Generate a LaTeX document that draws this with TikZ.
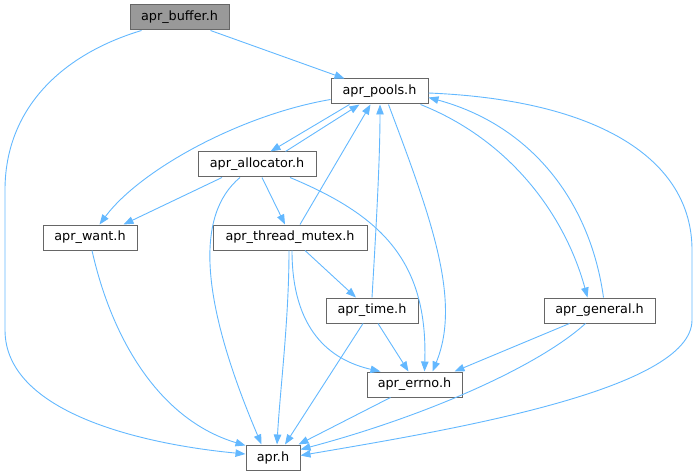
\documentclass[tikz,border=0pt]{standalone}
\usepackage{fontspec}
\setmainfont{DejaVu Sans}
\usetikzlibrary{arrows.meta}
\definecolor{edgeblue}{RGB}{99,184,255}
\definecolor{boxborder}{RGB}{102,102,102}
\definecolor{boxgray}{RGB}{153,153,153}
\begin{document}
\begin{tikzpicture}[x=1pt,y=-1pt,
  filebox/.style={draw=boxborder,line width=1pt,fill=white,rectangle,inner sep=0pt,minimum height=25pt,font=\fontsize{12.8}{15}\selectfont},
  curfile/.style={filebox,fill=boxgray},
  dep/.style={draw=edgeblue,line width=0.9pt,-{Triangle[length=10pt,width=7.5pt]}}]
\useasboundingbox (0,0) rectangle (699,476);
% nodes
\node[curfile,minimum width=99pt] (buffer) at (179.5,17.5) {apr\_buffer.h};
\node[filebox,minimum width=97pt] (pools) at (379.5,91.5) {apr\_pools.h};
\node[filebox,minimum width=118pt] (alloc) at (257,164.5) {apr\_allocator.h};
\node[filebox,minimum width=94pt] (want) at (90,237.5) {apr\_want.h};
\node[filebox,minimum width=154pt] (mutex) at (290,237.5) {apr\_thread\_mutex.h};
\node[filebox,minimum width=92pt] (time) at (372,310.5) {apr\_time.h};
\node[filebox,minimum width=111pt] (general) at (599.5,310.5) {apr\_general.h};
\node[filebox,minimum width=95pt] (errno) at (414.5,384.5) {apr\_errno.h};
\node[filebox,minimum width=54pt] (apr) at (273,457.5) {apr.h};
% edges
\draw[dep] ([xshift=12pt]buffer.south west) .. controls (60,55) and (5,110) .. (5,190) -- (5,330) .. controls (5,415) and (150,445) .. ([yshift=3.5pt]apr.west);
\draw[dep] ([xshift=-19pt]buffer.south east) -- ([xshift=14pt]pools.north west);
\draw[dep] ([xshift=19pt]pools.south west) -- ([xshift=-46pt]alloc.north east);
\draw[dep] ([xshift=-31pt]alloc.north east) -- ([xshift=29pt]pools.south west);
\draw[dep] ([yshift=-8pt]pools.west) .. controls (240,115) and (140,170) .. ([xshift=57pt]want.north west);
\draw[dep] ([xshift=9pt]pools.south) .. controls (430,215) and (462,300) .. ([xshift=18pt]errno.north);
\draw[dep] ([xshift=-8pt]pools.south east) .. controls (510,140) and (565,215) .. ([xshift=-12pt]general.north);
\draw[dep] ([xshift=4pt]general.north) .. controls (590,200) and (530,125) .. ([yshift=-6pt]pools.east);
\draw[dep] ([yshift=-1.5pt]pools.east) .. controls (600,100) and (692,160) .. (692,250) -- (692,320) .. controls (692,390) and (450,430) .. ([yshift=2pt]apr.east);
\draw[dep] ([xshift=-35pt]alloc.south) -- ([xshift=-14pt]want.north east);
\draw[dep] ([xshift=5pt]alloc.south) -- ([xshift=-5pt]mutex.north);
\draw[dep] ([xshift=-17pt]alloc.south) .. controls (195,215) and (200,300) .. ([xshift=16pt]apr.north west);
\draw[dep] ([xshift=33pt]alloc.south) .. controls (380,215) and (428,260) .. ([xshift=10pt]errno.north);
\draw[dep] ([xshift=10pt]mutex.north) -- ([xshift=-9pt]pools.south);
\draw[dep] ([xshift=15pt]mutex.south) -- ([xshift=-16pt]time.north);
\draw[dep] ([xshift=2pt]mutex.south) .. controls (292,330) and (330,360) .. ([xshift=-34pt]errno.north);
\draw[dep] ([xshift=-1pt]mutex.south) .. controls (289,320) and (280,390) .. ([xshift=4pt]apr.north);
\draw[dep] (time.north) .. controls (376,230) and (380,160) .. ([xshift=0.5pt]pools.south);
\draw[dep] ([xshift=6pt]time.south) -- ([xshift=-6pt]errno.north);
\draw[dep] ([xshift=-9pt]time.south) -- ([xshift=12pt]apr.north);
\draw[dep] ([xshift=-30pt]general.south) -- ([xshift=-8pt]errno.north east);
\draw[dep] ([xshift=-14pt]general.south) .. controls (540,365) and (430,415) .. ([yshift=8pt]apr.east);
\draw[dep] ([xshift=-24pt]errno.south) -- ([xshift=-2pt]apr.north east);
\draw[dep] ([xshift=2pt]want.south) .. controls (112,340) and (160,420) .. ([yshift=12pt]apr.west);
\end{tikzpicture}
\end{document}
